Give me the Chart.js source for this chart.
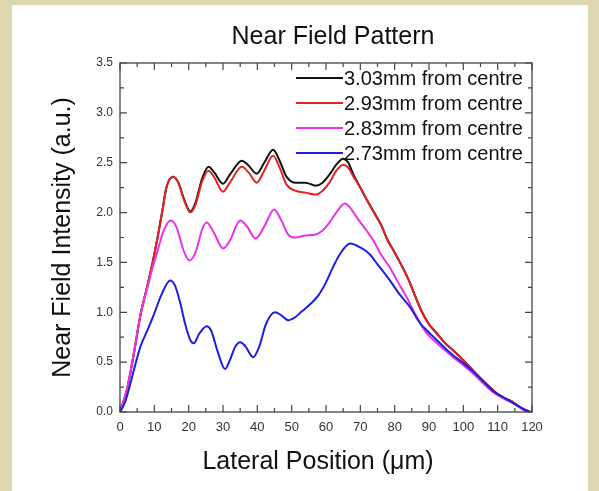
<!DOCTYPE html>
<html>
<head>
<meta charset="utf-8">
<script src="https://cdn.jsdelivr.net/npm/chart.js@4.4.1/dist/chart.umd.min.js"></script>
<style>
  html, body { margin: 0; padding: 0; background: #dcd7b0; }
  #wrap { width: 599px; height: 491px; }
</style>
</head>
<body>
<div id="wrap"><canvas id="nf" width="599" height="491"></canvas></div>
<script>
// lateral position (um) and intensity (a.u.) for each distance from centre
const seriesLabels = ['3.03mm from centre', '2.93mm from centre', '2.83mm from centre', '2.73mm from centre'];
const seriesColors = ['#111111', '#e52222', '#e833e8', '#1e1ee0'];

const x303 = [0, 2, 4, 6, 8, 9.5, 11, 12.5, 13.5, 15.5, 17, 18.5, 20.5, 22, 24, 25.8, 27.5, 30, 32, 35.5, 37.5, 39.8, 42, 44.6, 46.5, 48.5, 51, 54, 57, 59, 61, 63, 65, 66.5, 68, 70, 72, 74, 76, 78, 80, 82, 84, 86, 88, 90, 92, 95, 97, 100, 103, 105, 108, 110, 112, 114, 116, 118, 119.5];
const y303 = [0, 0.22, 0.58, 0.98, 1.27, 1.5, 1.76, 2.05, 2.25, 2.36, 2.3, 2.15, 2.01, 2.1, 2.35, 2.46, 2.4, 2.29, 2.38, 2.52, 2.47, 2.39, 2.5, 2.63, 2.52, 2.36, 2.3, 2.3, 2.27, 2.3, 2.38, 2.48, 2.54, 2.5, 2.38, 2.25, 2.12, 2.0, 1.88, 1.72, 1.6, 1.47, 1.33, 1.16, 1.0, 0.88, 0.8, 0.68, 0.62, 0.52, 0.41, 0.34, 0.24, 0.18, 0.14, 0.11, 0.06, 0.02, 0];

const x293 = [0, 2, 4, 6, 8, 9.5, 11, 12.5, 13.5, 15.5, 17, 18.5, 20.5, 22, 24, 25.8, 27.5, 30, 32, 35.5, 37.5, 39.8, 42, 44.6, 46.5, 48.5, 51, 54, 57, 59, 61, 63, 65, 66.5, 68, 70, 72, 74, 76, 78, 80, 82, 84, 86, 88, 90, 92, 95, 97, 100, 103, 105, 108, 110, 112, 114, 116, 118, 119.5];
const y293 = [0, 0.22, 0.58, 0.98, 1.27, 1.5, 1.76, 2.05, 2.25, 2.36, 2.3, 2.14, 2.0, 2.08, 2.32, 2.42, 2.35, 2.21, 2.3, 2.46, 2.4, 2.3, 2.42, 2.57, 2.45, 2.28, 2.22, 2.2, 2.18, 2.22, 2.3, 2.42, 2.48, 2.45, 2.36, 2.25, 2.12, 2.0, 1.88, 1.72, 1.6, 1.47, 1.33, 1.16, 1.0, 0.88, 0.8, 0.68, 0.62, 0.52, 0.41, 0.34, 0.24, 0.18, 0.14, 0.11, 0.06, 0.02, 0];

const x283 = [0, 2, 4, 6, 8, 9.5, 11, 12.5, 14.8, 16.5, 18.5, 20.2, 22, 24, 25.3, 27, 30.1, 32, 35, 37, 39.5, 42, 44.9, 47, 49, 51, 54, 57, 59, 61, 63, 65.5, 67, 69, 71.8, 73.8, 76, 78.6, 81, 83.5, 86, 89.3, 92, 95, 97, 100, 103, 106, 109, 112, 115, 117.5, 119.5];
const y283 = [0, 0.22, 0.58, 0.98, 1.25, 1.45, 1.62, 1.8, 1.92, 1.85, 1.62, 1.52, 1.6, 1.84, 1.9, 1.82, 1.64, 1.72, 1.92, 1.86, 1.74, 1.86, 2.03, 1.92, 1.78, 1.75, 1.77, 1.78, 1.82, 1.9, 2.0, 2.09, 2.05, 1.95, 1.82, 1.72, 1.58, 1.45, 1.3, 1.15, 0.98, 0.79, 0.7, 0.61, 0.55, 0.47, 0.38, 0.28, 0.19, 0.13, 0.08, 0.02, 0];

const x273 = [0, 1.5, 3, 4.5, 6, 8, 10, 12, 14.6, 16, 17.5, 19, 20.5, 21.5, 23, 25.2, 26.5, 28.5, 30.6, 32, 33.5, 35, 36.5, 38.8, 40.5, 42.5, 45.1, 47, 49, 51, 53, 56, 58, 60, 62, 64, 67, 70, 72.8, 75, 78.6, 81, 84.5, 87.4, 89.3, 92, 95, 97, 100, 103, 106, 109, 112, 114, 116, 118, 119.5];
const y273 = [0, 0.1, 0.28, 0.48, 0.66, 0.82, 0.99, 1.17, 1.32, 1.27, 1.1, 0.88, 0.72, 0.69, 0.78, 0.86, 0.82, 0.6, 0.43, 0.52, 0.65, 0.7, 0.66, 0.55, 0.65, 0.88, 1.0, 0.97, 0.92, 0.95, 1.01, 1.1, 1.18, 1.3, 1.45, 1.58, 1.69, 1.65, 1.58, 1.48, 1.32, 1.2, 1.05, 0.89, 0.82, 0.73, 0.63, 0.57, 0.49, 0.4, 0.3, 0.2, 0.14, 0.1, 0.06, 0.02, 0];

const xTickStep = 10;
const yTickStep = 0.5;

function pts(xs, ys) {
  return xs.map((x, i) => ({ x: x, y: ys[i] }));
}

const allX = [x303, x293, x283, x273];
const allY = [y303, y293, y283, y273];

const datasets = seriesLabels.map((label, i) => ({
  label: label,
  data: pts(allX[i], allY[i]),
  borderColor: seriesColors[i],
  borderWidth: 2,
  pointRadius: 0,
  fill: false,
  cubicInterpolationMode: 'monotone',
  order: 4 - i
}));

const FONT = 'Arial, "Liberation Sans", sans-serif';

// beige page with a white panel behind the chart
const panelBg = {
  id: 'panelBg',
  beforeDraw(chart) {
    const ctx = chart.ctx;
    ctx.save();
    ctx.fillStyle = '#dcd7b0';
    ctx.fillRect(0, 0, chart.width, chart.height);
    ctx.fillStyle = '#ffffff';
    ctx.fillRect(12, 5, 576, chart.height - 5);
    ctx.restore();
  }
};

// box around the plot with inward ticks on all four sides, plus titles
const frameTicks = {
  id: 'frameTicks',
  afterDatasetsDraw(chart) {
    const ctx = chart.ctx;
    const a = chart.chartArea;
    const xs = chart.scales.x, ys = chart.scales.y;
    ctx.save();
    ctx.strokeStyle = '#444';
    ctx.lineWidth = 1.3;
    ctx.strokeRect(a.left, a.top, a.right - a.left, a.bottom - a.top);
    ctx.lineWidth = 1.2;
    ctx.beginPath();
    for (let v = 0; v <= 120; v += xTickStep / 2) {
      const px = xs.getPixelForValue(v);
      const len = (v % xTickStep === 0) ? 7 : 4;
      ctx.moveTo(px, a.bottom); ctx.lineTo(px, a.bottom - len);
      ctx.moveTo(px, a.top); ctx.lineTo(px, a.top + len);
    }
    for (let k = 0; k <= 14; k++) {
      const v = k * yTickStep / 2;
      const py = ys.getPixelForValue(v);
      const len = (k % 2 === 0) ? 7 : 4;
      ctx.moveTo(a.left, py); ctx.lineTo(a.left + len, py);
      ctx.moveTo(a.right, py); ctx.lineTo(a.right - len, py);
    }
    ctx.stroke();

    ctx.fillStyle = '#111';
    ctx.font = '25px ' + FONT;
    ctx.textAlign = 'center';
    ctx.textBaseline = 'middle';
    ctx.fillText('Near Field Pattern', (a.left + a.right) / 2 + 7, 37);
    ctx.fillText('Lateral Position (\u03bcm)', (a.left + a.right) / 2 - 8, 462);
    ctx.restore();
  },
  afterDraw(chart) {
    // legend in the upper right corner of the plot
    const ctx = chart.ctx;
    ctx.save();
    ctx.font = '20px ' + FONT;
    ctx.textBaseline = 'middle';
    ctx.textAlign = 'left';
    chart.data.datasets.forEach((ds, i) => {
      const y = 78 + i * 25;
      ctx.strokeStyle = ds.borderColor;
      ctx.lineWidth = 2;
      ctx.beginPath();
      ctx.moveTo(296, y); ctx.lineTo(343, y);
      ctx.stroke();
      ctx.fillStyle = '#111';
      ctx.fillText(ds.label, 344, y + 1);
    });
    ctx.restore();
  }
};

new Chart(document.getElementById('nf'), {
  type: 'line',
  data: { datasets: datasets },
  plugins: [panelBg, frameTicks],
  options: {
    responsive: false,
    animation: false,
    layout: { padding: { left: 12, right: 67, top: 63, bottom: 0 } },
    plugins: {
      legend: { display: false },
      title: { display: false },
      tooltip: { enabled: false }
    },
    scales: {
      x: {
        type: 'linear',
        min: 0,
        max: 120,
        afterFit(scale) { scale.height = 79; },
        grid: { display: false, drawTicks: false },
        border: { display: false },
        ticks: {
          stepSize: xTickStep,
          padding: 8,
          color: '#333',
          font: { family: FONT, size: 13 }
        }
      },
      y: {
        min: 0,
        max: 3.5,
        afterFit(scale) { scale.width = 108; },
        grid: { display: false, drawTicks: false },
        border: { display: false },
        ticks: {
          stepSize: yTickStep,
          padding: 7,
          color: '#333',
          font: { family: FONT, size: 12 },
          callback: v => v.toFixed(1)
        },
        title: {
          display: true,
          text: 'Near Field Intensity (a.u.)',
          color: '#111',
          font: { family: FONT, size: 25 },
          padding: { top: 36, bottom: 0 }
        }
      }
    }
  }
});
</script>
</body>
</html>
